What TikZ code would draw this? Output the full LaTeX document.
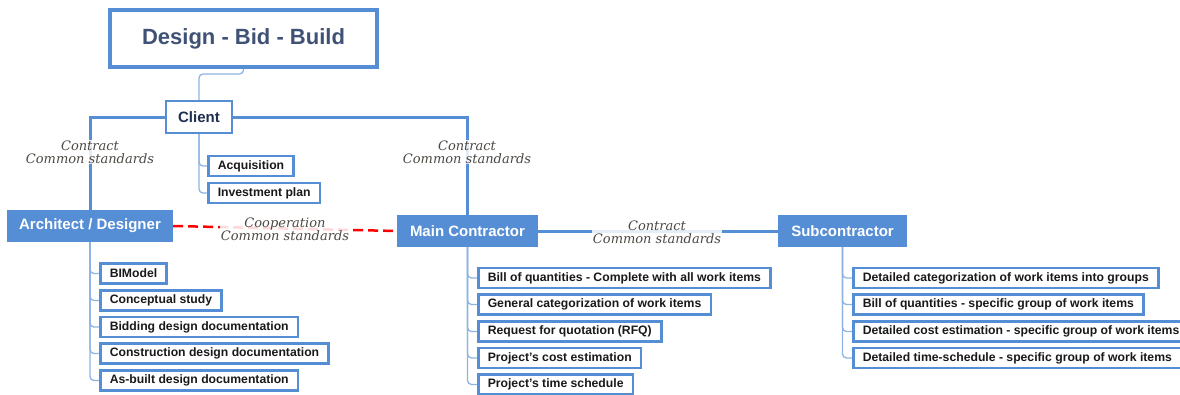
\documentclass[tikz,border=0pt]{standalone}
\usepackage{fontspec}
\setmainfont{Liberation Sans}
\newfontfamily\labfont{DejaVu Serif}
\definecolor{bl}{HTML}{558ED5}
\definecolor{lbl}{HTML}{8DB4E2}
\definecolor{ttl}{HTML}{3F5275}
\definecolor{cltxt}{HTML}{1F2F4F}
\definecolor{lab}{HTML}{4D4843}
\definecolor{redd}{HTML}{FF0000}
\begin{document}
\begin{tikzpicture}[x=1pt,y=-1pt,
  titlebox/.style={draw=bl, line width=4pt, fill=white, minimum width=267pt, minimum height=57pt,
    font=\fontsize{22}{26}\selectfont\bfseries, text=ttl, inner sep=0pt},
  clientbox/.style={draw=bl, line width=2pt, fill=white, minimum width=66pt, minimum height=32pt,
    font=\fontsize{15}{18}\selectfont\bfseries, text=cltxt, inner sep=0pt},
  rolebox/.style={fill=bl, minimum height=32pt, font=\fontsize{15}{18}\selectfont\bfseries, text=white, inner sep=0pt},
  itembox/.style={draw=bl, line width=2.5pt, fill=white, minimum height=20pt, inner xsep=9.5pt, inner ysep=1pt,
    anchor=west, font=\fontsize{12.2}{14}\selectfont\bfseries, text=black!90},
  mainline/.style={draw=bl, line width=3pt},
  conn/.style={draw=lbl, line width=1.3pt, rounded corners=4pt},
  reddash/.style={draw=redd, line width=2.5pt, dash pattern=on 10pt off 5pt},
  lablnode/.style={fill=white, fill opacity=0.85, text opacity=1, text=lab, align=center, inner sep=1pt,
    font=\labfont\itshape\fontsize{13}{13}\selectfont}
]
\useasboundingbox (0,0) rectangle (1180,394);

% main nodes
\node[titlebox] (ti) at (243.5,38.5) {Design - Bid - Build};
\node[clientbox] (cl) at (199,117) {Client};
\node[rolebox, minimum width=166pt] (ar) at (90,226) {Architect / Designer};
\node[rolebox, minimum width=141pt] (mc) at (467.5,231) {Main Contractor};
\node[rolebox, minimum width=129pt] (sc) at (842.5,231) {Subcontractor};

% client items
\node[itembox] (acq) at (207,166) {Acquisition};
\node[itembox] (inv) at (207,193) {Investment plan};

% architect items
\node[itembox] (a1) at (99,273.5) {BIModel};
\node[itembox] (a2) at (99,300.5) {Conceptual study};
\node[itembox] (a3) at (99,327) {Bidding design documentation};
\node[itembox] (a4) at (99,353.5) {Construction design documentation};
\node[itembox] (a5) at (99,380.5) {As-built design documentation};

% main contractor items
\node[itembox] (m1) at (477,278) {Bill of quantities - Complete with all work items};
\node[itembox] (m2) at (477,304.5) {General categorization of work items};
\node[itembox] (m3) at (477,331.5) {Request for quotation (RFQ)};
\node[itembox] (m4) at (477,358) {Project's cost estimation};
\node[itembox] (m5) at (477,384.5) {Project's time schedule};

% subcontractor items
\node[itembox] (s1) at (852,278) {Detailed categorization of work items into groups};
\node[itembox] (s2) at (852,304.5) {Bill of quantities - specific group of work items};
\node[itembox] (s3) at (852,331.5) {Detailed cost estimation - specific group of work items};
\node[itembox] (s4) at (852,358) {Detailed time-schedule - specific group of work items};

% connectors
\coordinate (tc) at ([yshift=-5pt]ti.south);
\draw[conn] (ti.south) -- (tc) -| (cl.north);
\draw[mainline] (cl.west) -| (ar.north);
\draw[mainline] (cl.east) -| (mc.north);
\draw[mainline] (mc.east) -- (sc.west);
\draw[reddash] (ar.east) -- (mc.west);

\foreach \c in {acq,inv} \draw[conn] (cl.south) |- (\c.west);
\foreach \c in {a1,a2,a3,a4,a5} \draw[conn] (ar.south) |- (\c.west);
\foreach \c in {m1,m2,m3,m4,m5} \draw[conn] (mc.south) |- (\c.west);
\foreach \c in {s1,s2,s3,s4} \draw[conn] (sc.south) |- (\c.west);

% labels
\node[lablnode] (l1) at (90,152) {Contract\\Common standards};
\node[lablnode] (l2) at (467,152) {Contract\\Common standards};
\node[lablnode] (l3) at (285,229) {Cooperation\\Common standards};
\node[lablnode] (l4) at (657,232) {Contract\\Common standards};
\end{tikzpicture}
\end{document}
